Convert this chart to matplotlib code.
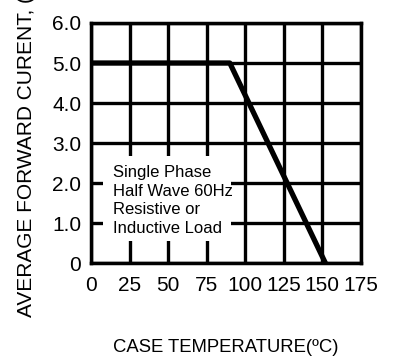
import matplotlib
matplotlib.use('Agg')
import matplotlib.pyplot as plt
from matplotlib.patches import Rectangle

plt.rcParams['font.family'] = ['Liberation Sans', 'DejaVu Sans']

# derating curve
temp = [0, 90, 152]
current = [5.0, 5.0, 0.0]

x_ticks = [0, 25, 50, 75, 100, 125, 150, 175]
y_ticks = [0, 1, 2, 3, 4, 5, 6]
y_labels = ['0', '1.0', '2.0', '3.0', '4.0', '5.0', '6.0']

note = 'Single Phase\nHalf Wave 60Hz\nResistive or\nInductive Load'

fig = plt.figure(figsize=(3.94, 3.59), dpi=100)
ax = fig.add_axes([0.231, 0.267, 0.685, 0.669])

ax.set_xlim(0, 175)
ax.set_ylim(0, 6)
ax.set_xticks(x_ticks)
ax.set_yticks(y_ticks)
ax.set_yticklabels(y_labels)
ax.tick_params(length=0, labelsize=15, pad=7)
ax.tick_params(axis='x', pad=9)

ax.set_axisbelow(True)
ax.grid(True, color='black', linewidth=2.4)
for s in ax.spines.values():
    s.set_linewidth(2.5)

# white area behind the note
ax.add_patch(Rectangle((8, 0.55), 83, 2.13, facecolor='white', edgecolor='none', zorder=1))
ax.text(14, 1.57, note, fontsize=12, va='center', ha='left', linespacing=1.3, zorder=2)

ax.plot(temp, current, color='black', linewidth=3.8, solid_capstyle='butt', zorder=3, clip_on=False)

ax.set_xlabel('CASE TEMPERATURE(\u00baC)', fontsize=13.3, labelpad=32)
fig.text(0.068, 1 - 317 / 359, 'AVERAGE FORWARD CURENT, (A)', rotation=90,
         fontsize=15, ha='center', va='bottom')

fig.savefig('out.png', dpi=100)
